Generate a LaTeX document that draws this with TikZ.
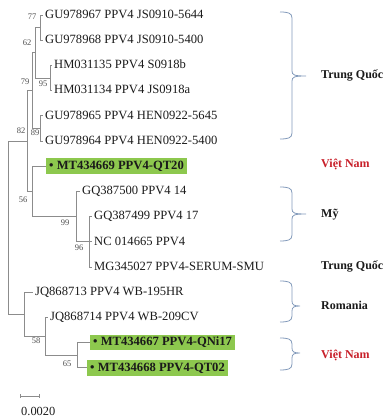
\documentclass[tikz,border=0pt]{standalone}
\usepackage{fontspec}
\setmainfont{Liberation Serif}
\usepackage{xcolor}
\usetikzlibrary{arrows.meta}
\definecolor{treeink}{HTML}{1A1A1A}
\definecolor{treegray}{HTML}{8C8C8C}
\definecolor{bootgray}{HTML}{4D4D4D}
\definecolor{hlgreen}{HTML}{8DC84E}
\definecolor{bracegray}{HTML}{8199BA}
\definecolor{vnred}{HTML}{C8202A}

\begin{document}
\begin{tikzpicture}[
  x=1pt,
  y=-1pt,
  every node/.style={treeink},
  branch/.style={treegray, line width=0.7pt},
  leaf/.style={anchor=west, inner xsep=2pt, inner ysep=2pt,
               text height=9pt, text depth=2.5pt,
               font=\fontsize{12.6}{14}\selectfont},
  hileaf/.style={leaf, fill=hlgreen, inner xsep=3pt,
                 font=\fontsize{12.6}{14}\selectfont\bfseries},
  boot/.style={inner sep=0pt, bootgray, font=\fontsize{8.5}{9}\selectfont},
  bracket/.style={bracegray, line width=0.8pt},
  country/.style={anchor=west, inner sep=0pt, text height=8pt, text depth=2pt,
                  font=\fontsize{12}{14}\selectfont\bfseries}
]
  \useasboundingbox (0,0) rectangle (386,419);

  %% ---- leaves, one row every 25.2 -----------------------------------------
  \node[leaf]   (l1)  at (43,15)    {GU978967 PPV4 JS0910-5644};
  \node[leaf]   (l2)  at (43,40.2)  {GU978968 PPV4 JS0910-5400};
  \node[leaf]   (l3)  at (52,65.4)  {HM031135 PPV4 S0918b};
  \node[leaf]   (l4)  at (52,90.6)  {HM031134 PPV4 JS0918a};
  \node[leaf]   (l5)  at (43,115.8) {GU978965 PPV4 HEN0922-5645};
  \node[leaf]   (l6)  at (43,141)   {GU978964 PPV4 HEN0922-5400};
  \node[hileaf] (l7)  at (46,166.2) {\textbullet\ MT434669 PPV4-QT20};
  \node[leaf]   (l8)  at (80,191.4) {GQ387500 PPV4 14};
  \node[leaf]   (l9)  at (92,216.6) {GQ387499 PPV4 17};
  \node[leaf]   (l10) at (92,241.8) {NC 014665 PPV4};
  \node[leaf]   (l11) at (92,267)   {MG345027 PPV4-SERUM-SMU};
  \node[leaf]   (l12) at (33,292.2) {JQ868713 PPV4 WB-195HR};
  \node[leaf]   (l13) at (48,317.4) {JQ868714 PPV4 WB-209CV};
  \node[hileaf] (l14) at (90,342.6) {\textbullet\ MT434667 PPV4-QNi17};
  \node[hileaf] (l15) at (87,367.8) {\textbullet\ MT434668 PPV4-QT02};

  %% ---- inner nodes (y = middle of the children) ---------------------------
  \coordinate (n77)  at (40,27.6);
  \coordinate (n95)  at (50,78);
  \coordinate (n62)  at (35,52.8);
  \coordinate (n89)  at (40,128.4);
  \coordinate (n79)  at (32,90.6);
  \coordinate (n96)  at (89,241.8);
  \coordinate (n99)  at (76,216.6);
  \coordinate (n56)  at (32,191.4);
  \coordinate (n82)  at (27,141);
  \coordinate (n65)  at (77,355.2);
  \coordinate (n58)  at (45,336.3);
  \coordinate (nlow) at (24,314.3);
  \coordinate (root) at (8,227.6);

  \foreach \p/\c in {n77/l1, n77/l2, n95/l3, n95/l4, n62/n77, n62/n95,
                     n89/l5, n89/l6, n79/n62, n79/n89,
                     n96/l9, n96/l10, n96/l11, n99/l8, n99/n96,
                     n56/l7, n56/n99, n82/n79, n82/n56,
                     n65/l14, n65/l15, n58/l13, n58/n65,
                     nlow/l12, nlow/n58, root/n82, root/nlow}
    \draw[branch] (\p) |- (\c);

  %% ---- bootstrap values -----------------------------------------------------
  \node[boot] (b77) at (32,17)  {77};
  \node[boot] (b62) at (27,43)  {62};
  \node[boot] (b79) at (25,82)  {79};
  \node[boot] (b95) at (43,84)  {95};
  \node[boot] (b82) at (21,131) {82};
  \node[boot] (b89) at (35,133) {89};
  \node[boot] (b56) at (23,200) {56};
  \node[boot] (b99) at (65,223) {99};
  \node[boot] (b96) at (79,248) {96};
  \node[boot] (b58) at (36,341) {58};
  \node[boot] (b65) at (67,364) {65};

  %% ---- scale bar ------------------------------------------------------------
  \coordinate (sbl) at (20,396);
  \coordinate (sbr) at (40,396);
  \draw[branch, {Bar[width=4pt]}-{Bar[width=4pt]}] (sbl) -- (sbr);
  \node[anchor=west, inner sep=0pt, font=\fontsize{12.4}{14}\selectfont]
    (sblab) at (21,411) {0.0020};

  %% ---- braces and countries --------------------------------------------------
  \foreach \ytop/\ybot/\ymid/\xtip in {12/139/76/306, 187/241/214/306,
                                      281/322/306/300, 338/370/353/300}
    \draw[bracket] (280,\ytop) .. controls (288,\ytop) and (292,\ytop+1) .. (292,\ytop+6)
      -- (292,\ymid-5) .. controls (292,\ymid-1) and (294,\ymid) .. (\xtip,\ymid)
      .. controls (294,\ymid) and (292,\ymid+1) .. (292,\ymid+5)
      -- (292,\ybot-6) .. controls (292,\ybot-1) and (288,\ybot) .. (280,\ybot);

  \node[country]        (c1) at (321,76)  {Trung Quốc};
  \node[country, vnred] (c2) at (321,165) {Việt Nam};
  \node[country]        (c3) at (321,214) {Mỹ};
  \node[country]        (c4) at (321,266) {Trung Quốc};
  \node[country]        (c5) at (321,306) {Romania};
  \node[country, vnred] (c6) at (321,355) {Việt Nam};
\end{tikzpicture}
\end{document}
